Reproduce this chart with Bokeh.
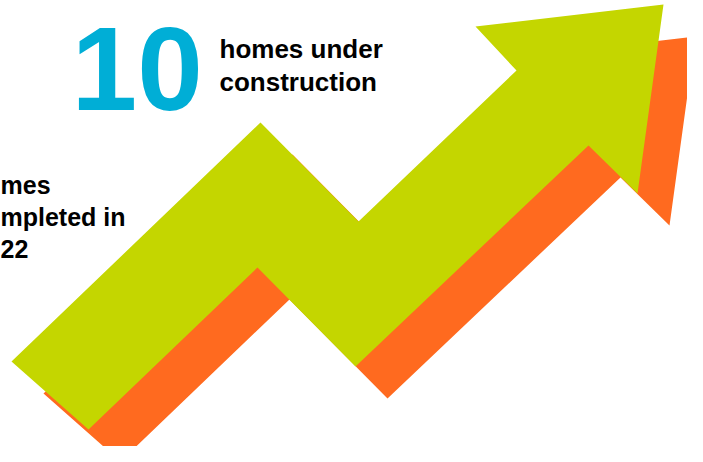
from bokeh.plotting import figure
from bokeh.models import Range1d
from bokeh.core.properties import value
from bokeh.embed import file_html
from bokeh.resources import INLINE

# ---- data ----
big_number = ["10"]
big_label = ["homes under", "construction"]
side_label = ["mes", "mpleted in", "22"]

# arrow outline (page-pixel coordinates, y downwards)
arrow_x = [11, 260, 358, 516, 475, 663, 637, 588, 355, 257, 88]
arrow_y = [361, 122, 221, 70, 26, 4, 193, 145, 366, 267, 429]
shadow_dx = 32
shadow_dy = 32

GREEN = "#C4D600"
ORANGE = "#FF6A1F"
CYAN = "#00AED6"
FONT = "Liberation Sans"

W, H = 687, 446
p = figure(width=W, height=H, output_backend="svg", toolbar_location=None,
           x_range=Range1d(0, W), y_range=Range1d(H, 0),
           min_border=0, outline_line_color=None)
p.axis.visible = False
p.grid.visible = False
p.background_fill_color = "white"
p.border_fill_color = "white"

# shadow arrow
p.patch([x + shadow_dx for x in arrow_x], [y + shadow_dy for y in arrow_y],
        fill_color=ORANGE, line_color=None)
# main arrow
p.patch(arrow_x, arrow_y, fill_color=GREEN, line_color=None)

def base(y, size):
    # compensate the renderer's baseline offset
    return y - 0.33 * size

# big number
p.text(x=[71], y=[base(107, 118)], text=big_number, text_color=CYAN,
       text_font=value(FONT), text_font_style="bold", text_font_size="118px",
       text_baseline="alphabetic", text_align="left")

# label next to number
p.text(x=[219, 219], y=[base(57, 26), base(90, 26)], text=big_label, text_color="black",
       text_font=value(FONT), text_font_style="bold", text_font_size="26px",
       text_baseline="alphabetic", text_align="left")

# side label (visible part)
p.text(x=[0, 0, 0], y=[base(193, 25), base(225, 25), base(257, 25)], text=side_label,
       text_color="black", text_font=value(FONT), text_font_style="bold",
       text_font_size="25px", text_baseline="alphabetic", text_align="left")

open("out.html", "w").write(file_html(p, INLINE))
